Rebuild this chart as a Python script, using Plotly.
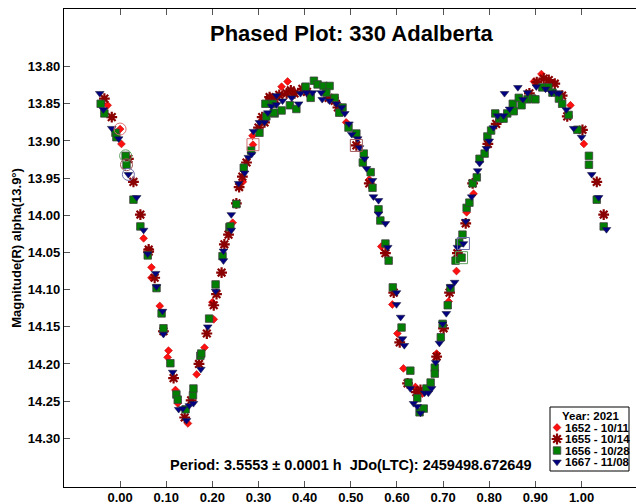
import plotly.graph_objects as go

# ---------------- data ----------------
series_names = ["1652 - 10/11", "1655 - 10/14", "1656 - 10/28", "1667 - 11/08"]
legend_title = "Year: 2021"

s1652_phase = [-0.027, 0.000, 0.003, 0.051, 0.068, 0.068, 0.086, 0.105, 0.103, 0.120, 0.125, 0.147,
               0.166, 0.183, 0.203, 0.200, 0.244, 0.266, 0.288, 0.287, 0.350, 0.363, 0.490, 0.566,
               0.590, 0.601, 0.614, 0.640, 0.686, 0.712, 0.729, 0.751, 0.766, 0.897, 0.913, 0.976,
               1.005, 0.933, 0.655, 0.540]
s1652_mag = [13.852, 13.884, 13.904, 14.031, 14.070, 14.084, 14.122, 14.182, 14.191, 14.235, 14.253, 14.280,
             14.214, 14.178, 14.140, 14.117, 14.010, 13.955, 13.905, 13.893, 13.827, 13.820, 13.875, 14.042,
             14.120, 14.159, 14.206, 14.231, 14.186, 14.116, 14.075, 13.996, 13.971, 13.820, 13.810, 13.852,
             13.904, 13.822, 14.240, 13.952]

s1655_phase = [-0.034, -0.018, 0.018, 0.029, 0.044, 0.062, 0.062, 0.075, 0.094, 0.116, 0.140, 0.154,
               0.171, 0.188, 0.203, 0.209, 0.220, 0.226, 0.235, 0.252, 0.258, 0.265, 0.274, 0.300,
               0.308, 0.313, 0.324, 0.326, 0.335, 0.345, 0.361, 0.370, 0.378, 0.395, 0.405, 0.452,
               0.465, 0.472, 0.478, 0.512, 0.540, 0.575, 0.593, 0.606, 0.623, 0.642, 0.651, 0.686,
               0.701, 0.714, 0.731, 0.749, 0.764, 0.797, 0.815, 0.887, 0.903, 0.918, 0.929, 0.942,
               0.958, 0.969, 1.002, 1.033, 1.048]
s1655_mag = [13.843, 13.868, 13.924, 13.955, 13.999, 14.046, 14.049, 14.084, 14.156, 14.219, 14.272, 14.249,
             14.200, 14.159, 14.121, 14.106, 14.077, 14.039, 14.026, 13.984, 13.962, 13.948, 13.929, 13.882,
             13.868, 13.875, 13.841, 13.843, 13.844, 13.838, 13.836, 13.832, 13.836, 13.830, 13.834, 13.842,
             13.846, 13.855, 13.858, 13.906, 13.957, 14.051, 14.104, 14.171, 14.226, 14.238, 14.235, 14.190,
             14.152, 14.104, 14.051, 14.011, 13.957, 13.904, 13.877, 13.836, 13.821, 13.816, 13.818, 13.823,
             13.839, 13.867, 13.885, 13.955, 13.999]

s1656_phase = [-0.042, -0.034, -0.010, -0.008, 0.012, 0.014, 0.029, 0.044, 0.060, 0.079, 0.090, 0.094,
               0.109, 0.122, 0.125, 0.142, 0.158, 0.159, 0.174, 0.176, 0.193, 0.207, 0.222, 0.237,
               0.239, 0.252, 0.268, 0.284, 0.302, 0.317, 0.315, 0.331, 0.335, 0.333, 0.350, 0.368,
               0.382, 0.402, 0.413, 0.420, 0.428, 0.441, 0.454, 0.447, 0.465, 0.482, 0.475, 0.495,
               0.512, 0.528, 0.526, 0.543, 0.547, 0.560, 0.564, 0.575, 0.582, 0.591, 0.610, 0.629,
               0.625, 0.644, 0.649, 0.658, 0.664, 0.673, 0.682, 0.682, 0.695, 0.699, 0.710, 0.716,
               0.727, 0.740, 0.735, 0.742, 0.751, 0.757, 0.764, 0.773, 0.779, 0.790, 0.796, 0.804,
               0.813, 0.822, 0.831, 0.839, 0.851, 0.853, 0.864, 0.870, 0.883, 0.893, 0.900, 0.915,
               0.928, 0.937, 0.951, 0.958, 0.972, 0.991, 1.016, 1.016, 1.033, 1.048]
s1656_mag = [13.850, 13.863, 13.889, 13.895, 13.920, 13.932, 13.979, 14.015, 14.054, 14.098, 14.132, 14.152,
             14.199, 14.241, 14.248, 14.261, 14.242, 14.233, 14.189, 14.186, 14.139, 14.093, 14.055, 14.016,
             14.015, 13.985, 13.936, 13.913, 13.889, 13.867, 13.850, 13.850, 13.863, 13.862, 13.859, 13.852,
             13.857, 13.827, 13.842, 13.819, 13.824, 13.826, 13.826, 13.835, 13.842, 13.855, 13.862, 13.882,
             13.890, 13.917, 13.929, 13.942, 13.963, 13.992, 14.007, 14.038, 14.061, 14.097, 14.151, 14.209,
             14.225, 14.246, 14.265, 14.260, 14.233, 14.225, 14.205, 14.213, 14.164, 14.146, 14.121, 14.098,
             14.061, 14.057, 14.037, 14.026, 13.990, 13.983, 13.957, 13.949, 13.924, 13.917, 13.894, 13.886,
             13.863, 13.870, 13.870, 13.863, 13.850, 13.860, 13.842, 13.852, 13.844, 13.843, 13.844, 13.828,
             13.828, 13.835, 13.843, 13.850, 13.865, 13.885, 13.920, 13.932, 13.979, 14.015]

s1667_phase = [-0.044, -0.036, -0.018, -0.003, 0.018, 0.036, 0.051, 0.060, 0.077, 0.079, 0.092, 0.094,
               0.114, 0.127, 0.136, 0.144, 0.150, 0.159, 0.175, 0.190, 0.207, 0.224, 0.224, 0.241,
               0.241, 0.257, 0.270, 0.278, 0.285, 0.289, 0.302, 0.320, 0.313, 0.328, 0.339, 0.339,
               0.352, 0.372, 0.387, 0.391, 0.404, 0.417, 0.436, 0.438, 0.454, 0.469, 0.480, 0.487,
               0.496, 0.502, 0.515, 0.519, 0.530, 0.534, 0.547, 0.549, 0.560, 0.560, 0.575, 0.580,
               0.599, 0.599, 0.608, 0.612, 0.616, 0.629, 0.636, 0.644, 0.651, 0.660, 0.668, 0.675,
               0.684, 0.692, 0.699, 0.707, 0.716, 0.725, 0.731, 0.744, 0.749, 0.762, 0.775, 0.779,
               0.794, 0.800, 0.809, 0.818, 0.831, 0.833, 0.844, 0.862, 0.873, 0.883, 0.902, 0.922,
               0.935, 0.946, 0.951, 0.967, 0.983, 1.000, 1.022, 1.037, 1.054]
s1667_mag = [13.836, 13.858, 13.883, 13.897, 13.945, 13.976, 14.020, 14.052, 14.078, 14.096, 14.129, 14.160,
             14.211, 14.261, 14.260, 14.276, 14.256, 14.253, 14.207, 14.150, 14.102, 14.061, 14.048, 14.020,
             13.999, 13.957, 13.943, 13.922, 13.918, 13.887, 13.875, 13.862, 13.875, 13.853, 13.839, 13.851,
             13.846, 13.842, 13.850, 13.836, 13.835, 13.835, 13.835, 13.844, 13.846, 13.850, 13.855, 13.863,
             13.877, 13.891, 13.897, 13.909, 13.924, 13.937, 13.953, 13.975, 13.980, 13.998, 14.011, 14.043,
             14.104, 14.120, 14.137, 14.166, 14.175, 14.233, 14.253, 14.257, 14.266, 14.239, 14.239, 14.233,
             14.198, 14.172, 14.146, 14.132, 14.096, 14.090, 14.043, 14.038, 14.008, 13.975, 13.940, 13.930,
             13.910, 13.900, 13.882, 13.866, 13.866, 13.836, 13.857, 13.828, 13.844, 13.835, 13.827, 13.830,
             13.835, 13.835, 13.836, 13.858, 13.883, 13.895, 13.945, 13.976, 14.019]

# highlighted (comparison) observations
circled_phase = [0.000, 0.012, 0.014, 0.018]
circled_mag = [13.884, 13.920, 13.932, 13.945]
circled_color = ["#e07070", "#60a060", "#a05555", "#6a6aa8"]
boxed_phase = [0.288, 0.512, 0.744, 0.740]
boxed_mag = [13.905, 13.906, 14.038, 14.057]
boxed_color = ["#d07070", "#a05555", "#6a6aa8", "#60a060"]

x_tick_vals = [0.0, 0.1, 0.2, 0.3, 0.4, 0.5, 0.6, 0.7, 0.8, 0.9, 1.0]
x_tick_text = ["0.00", "0.10", "0.20", "0.30", "0.40", "0.50", "0.60", "0.70", "0.80", "0.90", "1.00"]
y_tick_vals = [13.80, 13.85, 13.90, 13.95, 14.00, 14.05, 14.10, 14.15, 14.20, 14.25, 14.30]
y_tick_text = ["13.80", "13.85", "13.90", "13.95", "14.00", "14.05", "14.10", "14.15", "14.20", "14.25", "14.30"]

title_text = "Phased Plot: 330 Adalberta"
period_text = "Period: 3.5553 \u00b1 0.0001 h \u00a0JDo(LTC): 2459498.672649"
y_title = "Magnitude(R) alpha(13.9\u00b0)"

# ---------------- styles ----------------
W, H = 636, 504
ML, MR, MT, MB = 64, 0, 9, 17
FONT = "Liberation Sans, Arial, sans-serif"
X_RANGE = [-0.1215, 1.118]
Y_RANGE = [14.3655, 13.7225]

styles = [
    dict(symbol="diamond", size=6, color="#ff1010", line=dict(color="#c00000", width=0.6)),
    dict(symbol="asterisk-open", size=9, color="#8b0000", line=dict(color="#8b0000", width=2.2)),
    dict(symbol="square", size=7.5, color="#008000", line=dict(color="#404040", width=0.8)),
    dict(symbol="triangle-down", size=7.5, color="#000080", line=dict(color="#202040", width=0.6)),
]
data = [(s1652_phase, s1652_mag), (s1655_phase, s1655_mag), (s1656_phase, s1656_mag), (s1667_phase, s1667_mag)]

fig = go.Figure()
for (ph, mg), st, nm in zip(data, styles, series_names):
    fig.add_trace(go.Scatter(x=ph, y=mg, mode="markers", name=nm, marker=st, showlegend=False))

fig.add_trace(go.Scatter(x=circled_phase, y=circled_mag, mode="markers", showlegend=False,
                         marker=dict(symbol="circle-open", size=12, color=circled_color, line=dict(width=1))))
fig.add_trace(go.Scatter(x=boxed_phase, y=boxed_mag, mode="markers", showlegend=False,
                         marker=dict(symbol="square-open", size=12, color=boxed_color, line=dict(width=1))))

# top frame axis (same scale as the phase axis, ticks only)
fig.add_trace(go.Scatter(x=[x_tick_vals[0]], y=[y_tick_vals[0]], xaxis="x3", yaxis="y", mode="markers",
                         marker=dict(opacity=0), showlegend=False, hoverinfo="skip"))

# ---------------- custom compact legend (overlay pixel axis) ----------------
leg_x0, leg_x1, leg_y0, leg_y1 = 550, 629, 407, 471
def px2paper_x(px):
    return (px - ML) / (W - ML - MR)
def px2paper_y(py):
    return (H - MB - py) / (H - MT - MB)

fig.add_shape(type="rect", xref="paper", yref="paper",
              x0=px2paper_x(leg_x0), x1=px2paper_x(leg_x1), y0=px2paper_y(leg_y1), y1=px2paper_y(leg_y0),
              line=dict(color="#000000", width=1), fillcolor="white", layer="below")
fig.add_annotation(x=px2paper_x(591), y=px2paper_y(416), xref="paper", yref="paper", text=legend_title,
                   showarrow=False, xanchor="center", yanchor="middle",
                   font=dict(family=FONT, size=11.5, color="black", weight="bold"))
row_y = [427.5, 439, 450.5, 462]
for i, (nm, st) in enumerate(zip(series_names, styles)):
    fig.add_annotation(x=px2paper_x(563), y=px2paper_y(row_y[i]), xref="paper", yref="paper", text=nm,
                       showarrow=False, xanchor="left", yanchor="middle",
                       font=dict(family=FONT, size=11.5, color="black", weight="bold"))
    fig.add_trace(go.Scatter(x=[557], y=[row_y[i]], xaxis="x2", yaxis="y2", mode="markers",
                             marker=st, showlegend=False, hoverinfo="skip"))

# titles
fig.add_annotation(x=px2paper_x(352), y=px2paper_y(33), xref="paper", yref="paper", text=title_text,
                   showarrow=False, xanchor="center", yanchor="middle",
                   font=dict(family=FONT, size=22, color="black", weight="bold"))
fig.add_annotation(x=px2paper_x(351), y=px2paper_y(465), xref="paper", yref="paper", text=period_text,
                   showarrow=False, xanchor="center", yanchor="middle",
                   font=dict(family=FONT, size=14.5, color="black", weight="bold"))

axis_font = dict(family=FONT, size=13, color="black", weight="bold")
fig.update_layout(
    width=W, height=H,
    margin=dict(l=ML, r=MR, t=MT, b=MB, pad=0, autoexpand=False),
    paper_bgcolor="white", plot_bgcolor="white",
    xaxis=dict(range=X_RANGE, tickvals=x_tick_vals, ticktext=x_tick_text,
               ticks="inside", ticklen=6, tickcolor="#555555", tickwidth=1,
               showline=True, linecolor="black", linewidth=1.3, mirror=False, automargin=False,
               showgrid=False, zeroline=False, tickfont=axis_font, ticklabelstandoff=-2),
    xaxis3=dict(range=X_RANGE, tickvals=x_tick_vals, overlaying="x", side="top", anchor="y",
                ticks="inside", ticklen=6, tickcolor="#555555", tickwidth=1, showticklabels=False,
                showline=True, linecolor="black", linewidth=1.3, automargin=False,
                showgrid=False, zeroline=False, fixedrange=True),
    yaxis=dict(range=Y_RANGE, tickvals=y_tick_vals, ticktext=y_tick_text,
               ticks="inside", ticklen=6, tickcolor="#555555", tickwidth=1,
               showline=True, linecolor="black", linewidth=1.3, mirror=False, automargin=False,
               showgrid=False, zeroline=False, tickfont=axis_font, ticklabelstandoff=0,
               title=dict(text=y_title, standoff=3, font=dict(family=FONT, size=13, color="black", weight="bold"))),
    xaxis2=dict(range=[ML, W - MR], overlaying="x", visible=False, fixedrange=True),
    yaxis2=dict(range=[H - MB, MT], overlaying="y", visible=False, fixedrange=True),
)

fig.write_html("out.html", config={"displayModeBar": False},
               post_script="document.body.style.margin='0';document.body.style.overflow='hidden';")
